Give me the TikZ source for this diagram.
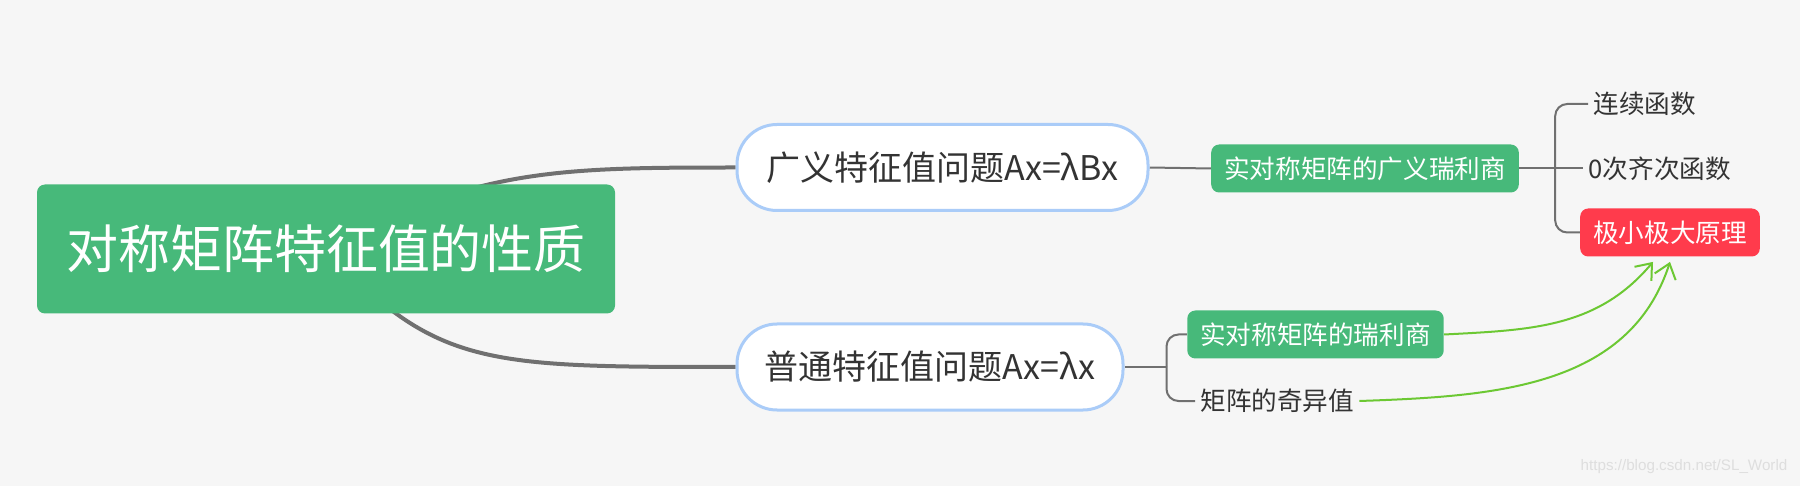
\documentclass[tikz,border=0pt]{standalone}
\usepackage{fontspec}
\setmainfont{Noto Sans CJK SC}
\newfontfamily\urlfont{Liberation Sans}
\usetikzlibrary{arrows.meta,positioning}
\pgfdeclarelayer{bg}
\pgfsetlayers{bg,main}
\definecolor{mapgreen}{HTML}{47B97A}
\definecolor{mapred}{HTML}{FF3B4C}
\definecolor{mapblue}{HTML}{AACCF8}
\definecolor{mapgray}{HTML}{707070}
\definecolor{maptext}{HTML}{333333}
\definecolor{mapbg}{HTML}{F6F6F6}
\definecolor{maplink}{HTML}{6CC833}
\begin{document}
\begin{tikzpicture}[x=0.5pt, y=-0.5pt,
  root/.style={fill=mapgreen, rounded corners=4pt, text=white, minimum width=289pt, minimum height=64.5pt, font=\fontsize{26}{30}\selectfont},
  topic/.style={draw=mapblue, line width=1.5pt, fill=white, rounded corners=20pt, text=maptext, minimum height=43pt, font=\fontsize{17}{20}\selectfont},
  tag/.style={fill=#1, rounded corners=4pt, text=white, minimum height=24pt, inner xsep=6.5pt, font=\fontsize{12.8}{15}\selectfont},
  leaf/.style={text=maptext, inner xsep=2.5pt, font=\fontsize{12.8}{15}\selectfont},
  branch/.style={draw=mapgray, line width=2pt},
  twig/.style={draw=mapgray, line width=1pt, rounded corners=6pt},
  link/.style={draw=maplink, line width=1pt, -{Straight Barb[length=7pt,width=11pt]}}
]
\useasboundingbox (0,0) rectangle (1800,486);
\node[root] (root) at (326,249) {对称矩阵特征值的性质};
\node[topic, minimum width=205.5pt] (gen) at (942.5,167.5) {广义特征值问题Ax=λBx};
\node[topic, minimum width=193pt] (norm) at (930,367) {普通特征值问题Ax=λx};
\node[tag=mapgreen] (g1) at (1365,168.5) {实对称矩阵的广义瑞利商};
\coordinate[right=18pt of g1.east] (fork1);
\node[leaf, right=14pt of fork1] (c2) {0次齐次函数};
\node[leaf, anchor=west] (c1) at (1588,104) {连续函数};
\node[tag=mapred] (red) at (1670,232.5) {极小极大原理};
\node[tag=mapgreen] (g2) at (1315.5,334.5) {实对称矩阵的瑞利商};
\coordinate[right=21pt of norm.east] (fork2);
\node[leaf, anchor=west] (sv) at (1195,401) {矩阵的奇异值};
\coordinate (aim1) at ([shift={(-17,5)}]red.south);
\coordinate (aim2) at ([shift={(0,5)}]red.south);
\node[text=black!13, font=\urlfont\fontsize{7.6}{9}\selectfont] (mark) at (1684,467) {https://blog.csdn.net/SL\_World};
\begin{pgfonlayer}{bg}
\fill[mapbg] (0,0) rectangle (1800,486);
\draw[branch] (root.center) .. controls +(150,-80) and +(-180,0) .. (gen.west);
\draw[branch] (root.center) .. controls +(110,118) and +(-250,0) .. (norm.west);
\draw[twig] (gen.east) -- (g1.west);
\draw[twig] (g1.east) -- (c2.west);
\draw[twig] (fork1) |- (c1.west);
\draw[twig] (fork1) |- (red.west);
\draw[twig] (norm.east) -- (fork2);
\draw[twig] (fork2) |- (g2.west);
\draw[twig] (fork2) |- (sv.west);
\end{pgfonlayer}
\draw[link] (g2.east) to[out=3, in=-130] (aim1);
\draw[link] (sv.east) to[out=2, in=-108] (aim2);
\end{tikzpicture}
\end{document}
